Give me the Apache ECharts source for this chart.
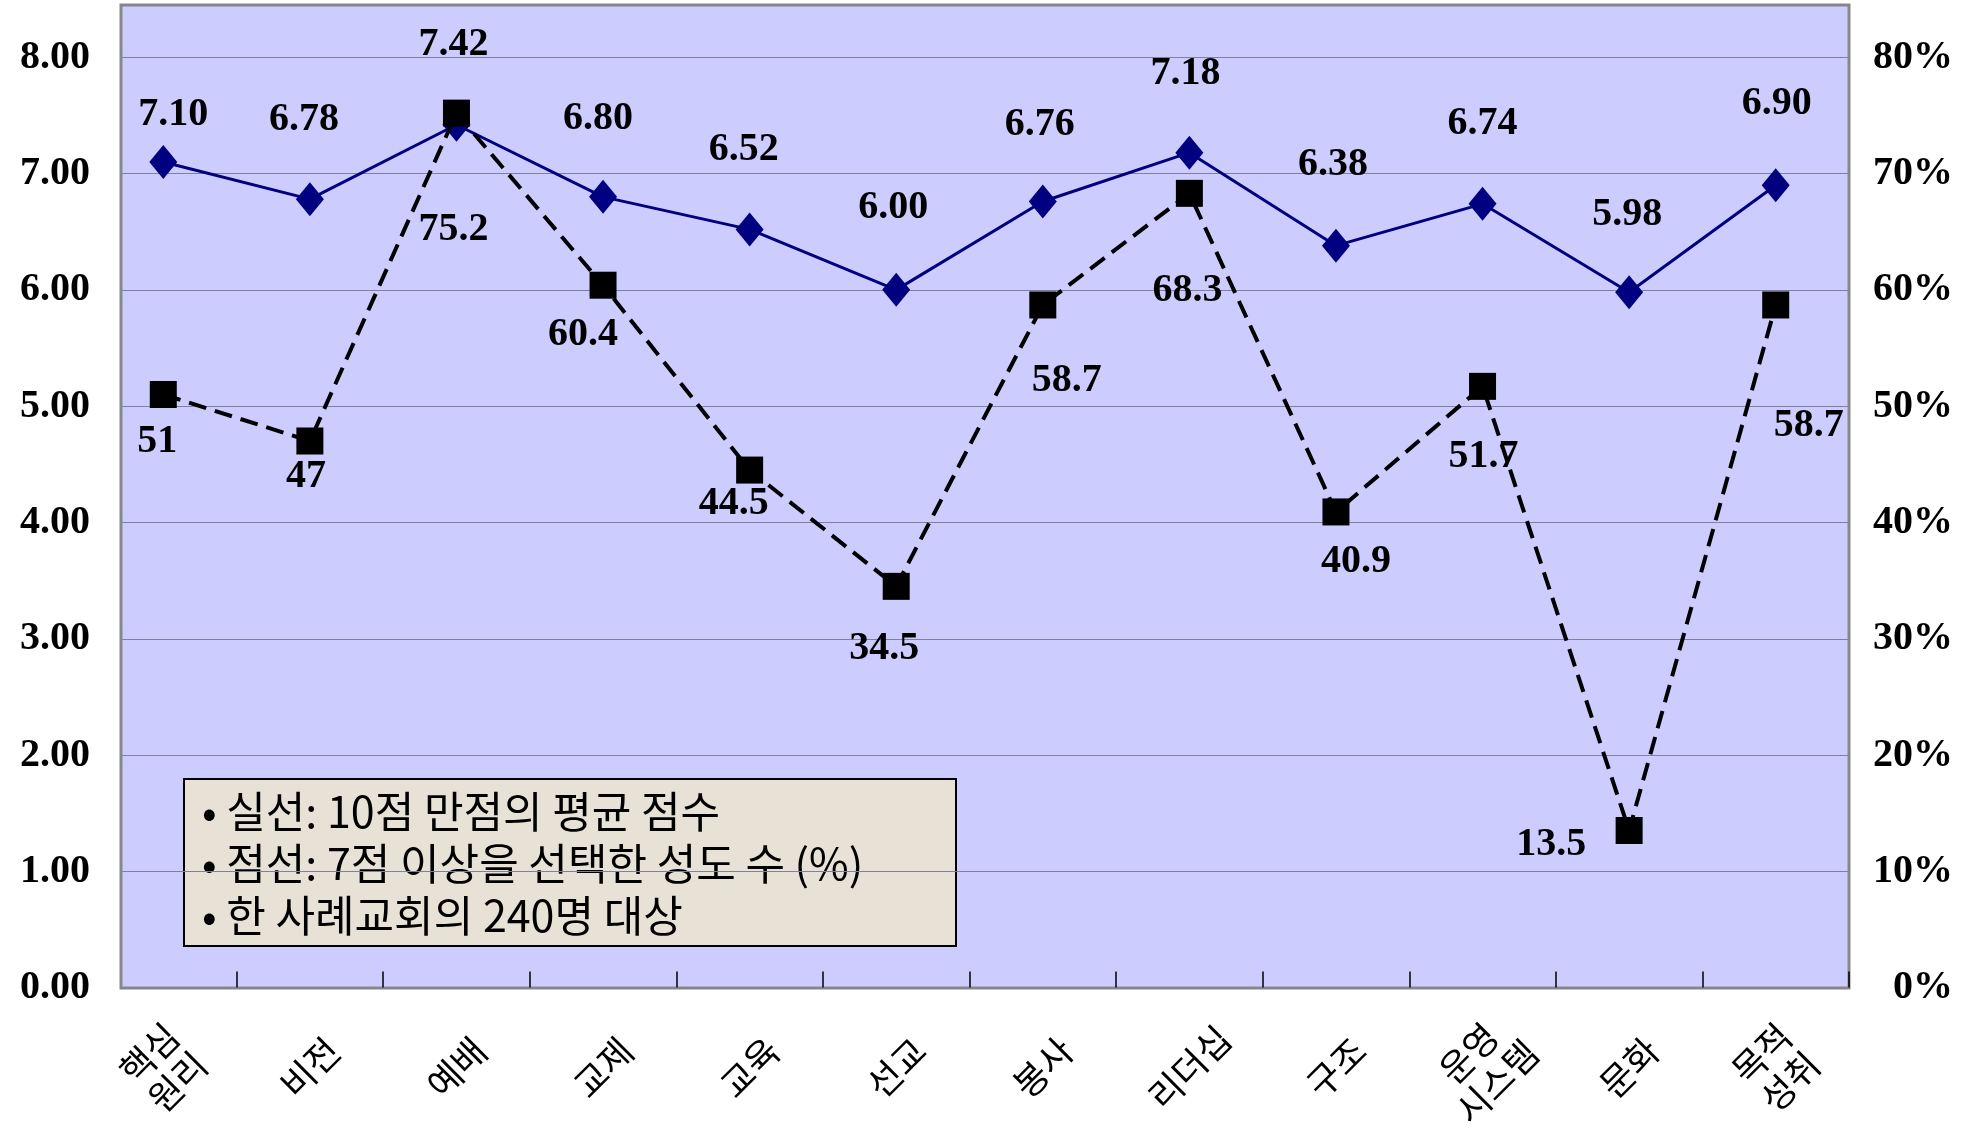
<!DOCTYPE html>
<html>
<head>
<meta charset="utf-8">
<title>실천 점수 차트</title>
<script src="https://cdn.jsdelivr.net/npm/echarts@6/dist/echarts.min.js"></script>
<style>
  html, body { margin: 0; padding: 0; background: #ffffff; }
  #chart { width: 1977px; height: 1133px; }
</style>
</head>
<body>
<div id="chart"></div>
<script>
// categories along the bottom
const categories = ['핵심\n원리', '비전', '예배', '교제', '교육', '선교', '봉사', '리더십', '구조', '운영\n시스템', '문화', '목적\n성취']

// solid line: average score out of 10
const practiceScores = [7.10, 6.78, 7.42, 6.80, 6.52, 6.00, 6.76, 7.18, 6.38, 6.74, 5.98, 6.90]
// dashed line: share of members choosing 7 or more (%)
const highScorePct = [51, 47, 75.2, 60.4, 44.5, 34.5, 58.7, 68.3, 40.9, 51.7, 13.5, 58.7]

// tick values on both vertical axes
const scoreTicks = [0, 1, 2, 3, 4, 5, 6, 7, 8]
const pctTicks = [0, 10, 20, 30, 40, 50, 60, 70, 80]

const noteLines = [
  '• 실선: 10점 만점의 평균 점수',
  '• 점선: 7점 이상을 선택한 성도 수 (%)',
  '• 한 사례교회의 240명 대상'
]

// label placement (pixel offsets from each marker)
const scoreLabelOffset = [[10, -47], [-6, -79], [-3, -80], [-5, -78], [-6, -80], [-3, -82], [-3, -77], [-4, -79], [-3, -81], [0, -80], [-2, -78], [1, -82]]
const pctLabelOffset = [[-6, 47], [-4, 36], [-3, 117], [-20, 49], [-16, 34], [-12, 62], [24, 76], [-2, 97], [20, 50], [1, 70], [-78, 14], [33, 121]]

const SERIF = '"Liberation Serif", "Times New Roman", serif'
const KR = '"Noto Sans CJK KR", sans-serif'

const numLabel = {
  show: true,
  position: 'inside',
  color: '#000',
  fontFamily: SERIF,
  fontWeight: 'bold',
  fontSize: 40
}

const chart = echarts.init(document.getElementById('chart'))

const option = {
  backgroundColor: '#ffffff',
  animation: false,
  grid: [
    // data grid: category bands start a little left of the frame, as in the original
    { left: 90, right: 128, top: 5, bottom: 145, show: false },
    // visible plot frame with background and gridlines
    { left: 121, right: 128, top: 5, bottom: 145, show: true, backgroundColor: '#CCCCFF', borderColor: '#888888', borderWidth: 3, z: 0 }
  ],
  xAxis: [
    {
      type: 'category',
      gridIndex: 0,
      data: categories,
      boundaryGap: true,
      axisLine: { show: false },
      axisTick: {
        show: true,
        inside: true,
        length: 16,
        interval: (index) => index !== 0,
        lineStyle: { color: '#000', width: 1.5 }
      },
      axisLabel: {
        interval: 0,
        rotate: 45,
        align: 'center',
        verticalAlign: 'middle',
        margin: 80,
        color: '#000',
        fontFamily: KR,
        fontSize: 36,
        lineHeight: 40
      }
    },
    {
      type: 'value',
      gridIndex: 1,
      show: false,
      min: 0,
      max: 1
    }
  ],
  yAxis: [
    { type: 'value', gridIndex: 0, min: 0, max: 8.45, show: false },
    { type: 'value', gridIndex: 0, min: 0, max: 84.5, show: false },
    {
      type: 'value',
      gridIndex: 1,
      position: 'left',
      min: 0,
      max: 8.45,
      interval: 1,
      axisLine: { show: false },
      axisTick: { show: false },
      splitLine: { show: true, lineStyle: { color: '#80809A', width: 1.2 } },
      axisLabel: {
        margin: 31,
        padding: [12, 0, 0, 0],
        color: '#000',
        fontFamily: SERIF,
        fontWeight: 'bold',
        fontSize: 40,
        formatter: (v) => scoreTicks.includes(v) ? v.toFixed(2) : ''
      }
    },
    {
      type: 'value',
      gridIndex: 1,
      position: 'right',
      min: 0,
      max: 84.5,
      interval: 10,
      axisLine: { show: false },
      axisTick: { show: false },
      splitLine: { show: false },
      axisLabel: {
        margin: 104,
        align: 'right',
        padding: [12, 0, 0, 0],
        color: '#000',
        fontFamily: SERIF,
        fontWeight: 'bold',
        fontSize: 40,
        formatter: (v) => pctTicks.includes(v) ? v + '%' : ''
      }
    }
  ],
  series: [
    {
      name: '실선',
      type: 'line',
      xAxisIndex: 0,
      yAxisIndex: 0,
      symbol: 'diamond',
      symbolSize: [28, 34],
      itemStyle: { color: '#000080' },
      lineStyle: { color: '#000080', width: 3 },
      label: { ...numLabel, formatter: (p) => p.value.toFixed(2) },
      data: practiceScores.map((v, i) => ({ value: v, label: { offset: scoreLabelOffset[i] } })),
      z: 3
    },
    {
      name: '점선',
      type: 'line',
      xAxisIndex: 0,
      yAxisIndex: 1,
      symbol: 'rect',
      symbolSize: 27,
      itemStyle: { color: '#000' },
      lineStyle: { color: '#000', width: 4, type: [18, 9] },
      label: { ...numLabel, formatter: (p) => String(p.value) },
      data: highScorePct.map((v, i) => ({ value: v, label: { offset: pctLabelOffset[i] } })),
      z: 4
    }
  ],
  graphic: [
    {
      type: 'group',
      left: 183,
      top: 778,
      z: 10,
      children: [
        {
          type: 'rect',
          shape: { x: 0, y: 0, width: 772, height: 167 },
          style: { fill: '#E7E2D5', stroke: '#000', lineWidth: 2 }
        },
        ...noteLines.map((t, i) => ({
          type: 'text',
          x: 18,
          y: 33 + i * 52,
          style: {
            text: t,
            fill: '#000',
            font: '43px ' + KR,
            verticalAlign: 'middle'
          }
        }))
      ]
    }
  ]
}

chart.setOption(option)
</script>
</body>
</html>
